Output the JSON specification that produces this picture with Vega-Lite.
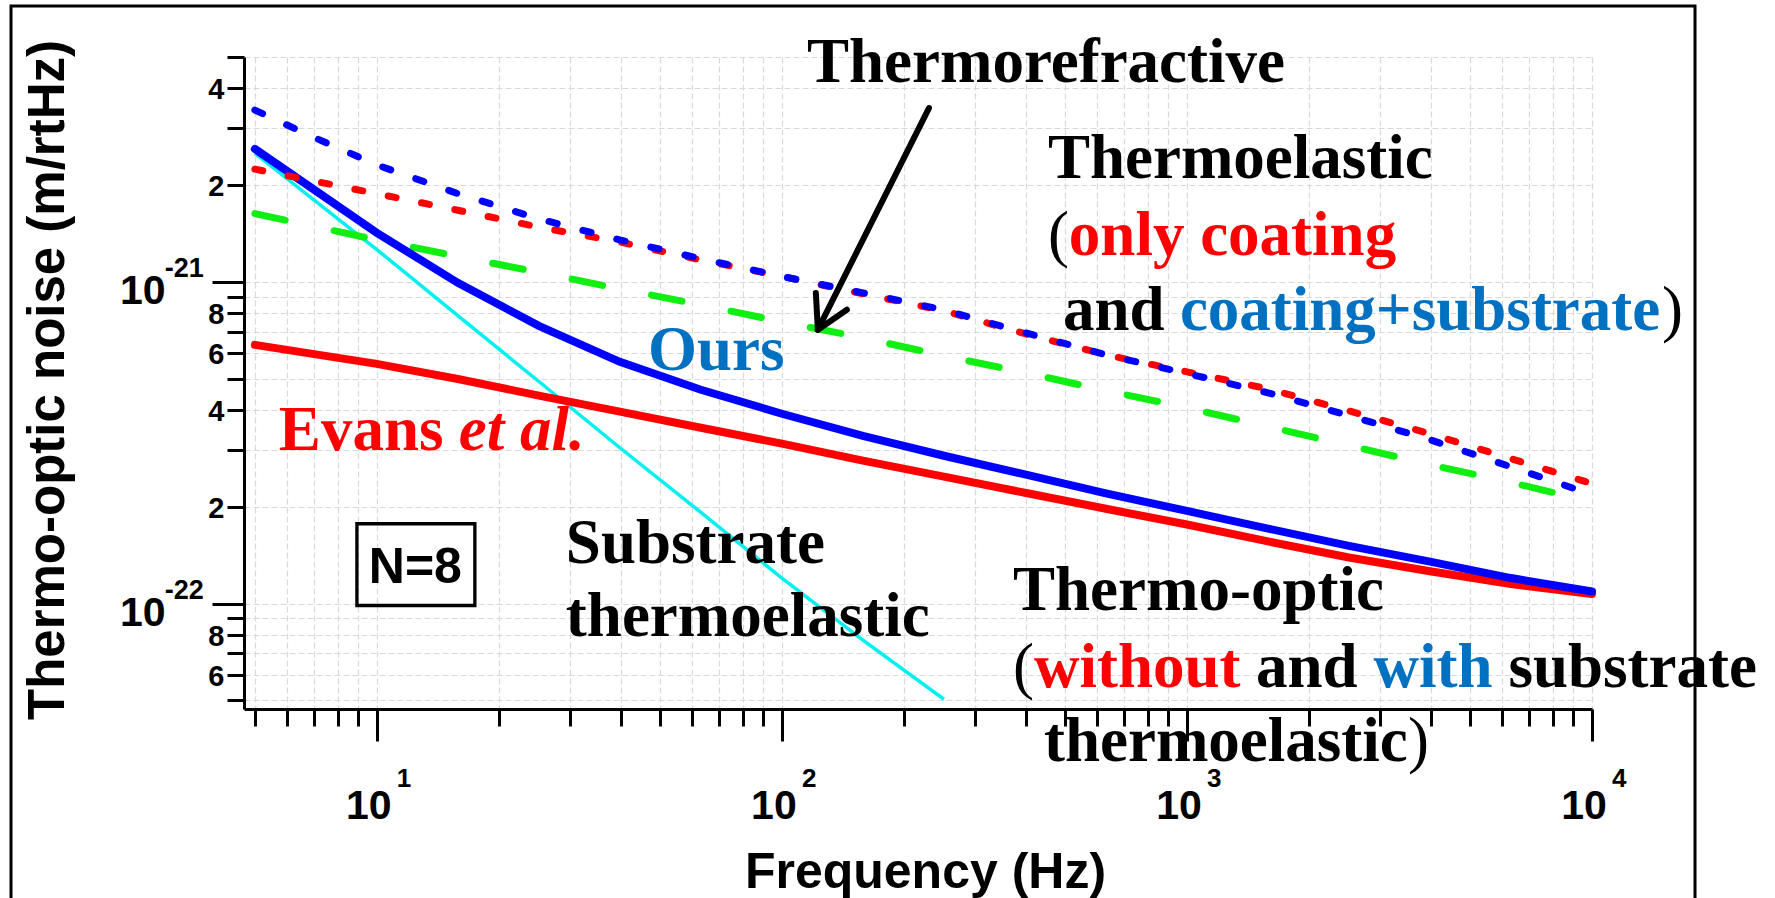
{
 "$schema": "https://vega.github.io/schema/vega-lite/v6.json",
 "width": 1348,
 "height": 652,
 "autosize": {"type": "none"},
 "padding": {"left": 244, "top": 57, "right": 183, "bottom": 189},
 "background": "white",
 "config": {"view": {"stroke": null}},
 "datasets": {
  "curves": [
   {"s":"evans","f":5,"v":6.37e-22},{"s":"evans","f":10,"v":5.56e-22},{"s":"evans","f":15.85,"v":4.99e-22},{"s":"evans","f":25.12,"v":4.43e-22},{"s":"evans","f":39.81,"v":3.95e-22},{"s":"evans","f":63.1,"v":3.52e-22},{"s":"evans","f":100,"v":3.14e-22},{"s":"evans","f":158.5,"v":2.78e-22},{"s":"evans","f":251.2,"v":2.48e-22},{"s":"evans","f":398.1,"v":2.21e-22},{"s":"evans","f":631,"v":1.97e-22},{"s":"evans","f":1000,"v":1.76e-22},{"s":"evans","f":1585,"v":1.56e-22},{"s":"evans","f":2512,"v":1.39e-22},{"s":"evans","f":3981,"v":1.26e-22},{"s":"evans","f":6310,"v":1.15e-22},{"s":"evans","f":10000,"v":1.07e-22},
   {"s":"ours","f":5,"v":2.59e-21},{"s":"ours","f":10,"v":1.42e-21},{"s":"ours","f":15.85,"v":9.93e-22},{"s":"ours","f":25.12,"v":7.30e-22},{"s":"ours","f":39.81,"v":5.64e-22},{"s":"ours","f":63.1,"v":4.62e-22},{"s":"ours","f":100,"v":3.89e-22},{"s":"ours","f":158.5,"v":3.32e-22},{"s":"ours","f":251.2,"v":2.88e-22},{"s":"ours","f":398.1,"v":2.52e-22},{"s":"ours","f":631,"v":2.20e-22},{"s":"ours","f":1000,"v":1.94e-22},{"s":"ours","f":1585,"v":1.71e-22},{"s":"ours","f":2512,"v":1.51e-22},{"s":"ours","f":3981,"v":1.35e-22},{"s":"ours","f":6310,"v":1.20e-22},{"s":"ours","f":10000,"v":1.09e-22},
   {"s":"te_coat","f":5,"v":2.24e-21},{"s":"te_coat","f":10,"v":1.88e-21},{"s":"te_coat","f":15.85,"v":1.67e-21},{"s":"te_coat","f":25.12,"v":1.48e-21},{"s":"te_coat","f":39.81,"v":1.33e-21},{"s":"te_coat","f":63.1,"v":1.17e-21},{"s":"te_coat","f":100,"v":1.04e-21},{"s":"te_coat","f":158.5,"v":9.18e-22},{"s":"te_coat","f":251.2,"v":8.13e-22},{"s":"te_coat","f":398.1,"v":6.90e-22},{"s":"te_coat","f":631,"v":5.93e-22},{"s":"te_coat","f":1000,"v":5.25e-22},{"s":"te_coat","f":1585,"v":4.65e-22},{"s":"te_coat","f":2512,"v":3.97e-22},{"s":"te_coat","f":3981,"v":3.37e-22},{"s":"te_coat","f":6310,"v":2.82e-22},{"s":"te_coat","f":10000,"v":2.36e-22},
   {"s":"te_coat_sub","f":5,"v":3.42e-21},{"s":"te_coat_sub","f":7,"v":2.81e-21},{"s":"te_coat_sub","f":10,"v":2.31e-21},{"s":"te_coat_sub","f":15.85,"v":1.88e-21},{"s":"te_coat_sub","f":25.12,"v":1.57e-21},{"s":"te_coat_sub","f":39.81,"v":1.35e-21},{"s":"te_coat_sub","f":63.1,"v":1.18e-21},{"s":"te_coat_sub","f":100,"v":1.04e-21},{"s":"te_coat_sub","f":158.5,"v":9.24e-22},{"s":"te_coat_sub","f":251.2,"v":8.18e-22},{"s":"te_coat_sub","f":398.1,"v":6.95e-22},{"s":"te_coat_sub","f":631,"v":5.93e-22},{"s":"te_coat_sub","f":1000,"v":5.19e-22},{"s":"te_coat_sub","f":1585,"v":4.52e-22},{"s":"te_coat_sub","f":2512,"v":3.84e-22},{"s":"te_coat_sub","f":3981,"v":3.23e-22},{"s":"te_coat_sub","f":6310,"v":2.66e-22},{"s":"te_coat_sub","f":10000,"v":2.18e-22},
   {"s":"tr","f":5,"v":1.63e-21},{"s":"tr","f":10,"v":1.35e-21},{"s":"tr","f":15.85,"v":1.20e-21},{"s":"tr","f":25.12,"v":1.07e-21},{"s":"tr","f":39.81,"v":9.51e-22},{"s":"tr","f":63.1,"v":8.48e-22},{"s":"tr","f":100,"v":7.51e-22},{"s":"tr","f":158.5,"v":6.70e-22},{"s":"tr","f":251.2,"v":5.89e-22},{"s":"tr","f":398.1,"v":5.22e-22},{"s":"tr","f":631,"v":4.59e-22},{"s":"tr","f":1000,"v":4.06e-22},{"s":"tr","f":1585,"v":3.55e-22},{"s":"tr","f":2512,"v":3.10e-22},{"s":"tr","f":3981,"v":2.70e-22},{"s":"tr","f":6310,"v":2.38e-22},{"s":"tr","f":10000,"v":2.07e-22},
   {"s":"sub_te","f":5,"v":2.51e-21},{"s":"sub_te","f":10,"v":1.26e-21},{"s":"sub_te","f":15.85,"v":7.85e-22},{"s":"sub_te","f":25.12,"v":4.9e-22},{"s":"sub_te","f":39.81,"v":3.05e-22},{"s":"sub_te","f":63.1,"v":1.92e-22},{"s":"sub_te","f":100,"v":1.2e-22},{"s":"sub_te","f":158.5,"v":7.7e-23},{"s":"sub_te","f":251.2,"v":5.04e-23}
  ],
  "notes": [
   {"txt":"Thermorefractive","f":115.3,"v":4.18e-21,"ref":"none","kind":"word"},
   {"txt":"Thermoelastic","f":453.7,"v":2.10e-21,"ref":"none","kind":"word"},
   {"txt":"(","f":453.7,"v":1.213e-21,"ref":"none","kind":"paren"},
   {"txt":"only coating","f":511.1,"v":1.213e-21,"ref":"without","kind":"word"},
   {"txt":"and","f":494.0,"v":7.10e-22,"ref":"none","kind":"word"},
   {"txt":"coating+substrate","f":960.7,"v":7.10e-22,"ref":"with","kind":"word"},
   {"txt":")","f":14890,"v":7.10e-22,"ref":"none","kind":"paren"},
   {"txt":"Ours","f":46.7,"v":5.33e-22,"ref":"with","kind":"word"},
   {"txt":"Evans","f":5.73,"v":3.01e-22,"ref":"without","kind":"word"},
   {"txt":"et al.","f":15.94,"v":3.01e-22,"ref":"without","kind":"etal"},
   {"txt":"Substrate","f":29.29,"v":1.34e-22,"ref":"none","kind":"word"},
   {"txt":"thermoelastic","f":29.29,"v":7.90e-23,"ref":"none","kind":"word"},
   {"txt":"Thermo-optic","f":371.9,"v":9.58e-23,"ref":"none","kind":"word"},
   {"txt":"(","f":371.9,"v":5.52e-23,"ref":"none","kind":"paren"},
   {"txt":"without","f":419.0,"v":5.52e-23,"ref":"without","kind":"word"},
   {"txt":"and","f":1481,"v":5.52e-23,"ref":"none","kind":"word"},
   {"txt":"with","f":2888,"v":5.52e-23,"ref":"with","kind":"word"},
   {"txt":"substrate","f":6217,"v":5.52e-23,"ref":"none","kind":"word"},
   {"txt":"thermoelastic","f":443.6,"v":3.23e-23,"ref":"none","kind":"word"},
   {"txt":")","f":3513,"v":3.23e-23,"ref":"none","kind":"paren"},
   {"txt":"N=8","f":12.45,"v":1.162e-22,"ref":"none","kind":"box"}
  ],
  "arrow": [
   {"f":230.7,"v":3.47e-21,"f2":122.7,"v2":7.10e-22},
   {"f":121.3,"v":9.24e-22,"f2":122.7,"v2":7.10e-22},
   {"f":144.7,"v":8.19e-22,"f2":122.7,"v2":7.10e-22}
  ],
  "boxes": [
   {"name":"frame","f":1.25,"f2":17960,"v":7.2e-21,"v2":1e-23},
   {"name":"N=8 box","f":8.93,"f2":17.46,"v":1.77e-22,"v2":9.86e-23}
  ],
  "exps": [
   {"txt":"1","f":10,"v":2.68e-23,"axis":"x"},
   {"txt":"2","f":100,"v":2.68e-23,"axis":"x"},
   {"txt":"3","f":1000,"v":2.68e-23,"axis":"x"},
   {"txt":"4","f":10000,"v":2.68e-23,"axis":"x"},
   {"txt":"-21","f":2.995,"v":1e-21,"axis":"y"},
   {"txt":"-22","f":2.995,"v":1e-22,"axis":"y"}
  ]
 },
 "encoding": {
  "x": {
   "field": "f", "type": "quantitative",
   "scale": {"type": "log", "domain": [4.7, 10000], "nice": false},
   "axis": {
    "values": [5,6,7,8,9,10,20,30,40,50,60,70,80,90,100,200,300,400,500,600,700,800,900,1000,2000,3000,4000,5000,6000,7000,8000,9000,10000],
    "labelExpr": "abs(log(datum.value)/LN10 - round(log(datum.value)/LN10)) < 1e-6 ? '10' : ''",
    "tickSize": {"condition": {"test": "abs(log(datum.value)/LN10 - round(log(datum.value)/LN10)) < 1e-6", "value": 32}, "value": 17},
    "tickWidth": 3, "tickColor": "#000000",
    "domainWidth": 3, "domainColor": "#000000",
    "grid": true, "gridColor": "#d9d9d9", "gridDash": [6, 3], "gridWidth": 1.2,
    "labelFont": "Liberation Sans", "labelFontWeight": "bold", "labelFontSize": 41, "labelColor": "#000000",
    "labelBaseline": "alphabetic", "labelAlign": "center", "labelPadding": 77, "labelOffset": -8.5,
    "labelFlush": false, "labelOverlap": false, "labelBound": false,
    "title": "Frequency (Hz)", "titleFont": "Liberation Sans", "titleFontWeight": "bold", "titleFontSize": 50, "titleColor": "#000000",
    "titleX": 681, "titleY": 178, "titleBaseline": "alphabetic", "titleAlign": "center"
   }
  },
  "y": {
   "field": "v", "type": "quantitative",
   "scale": {"type": "log", "domain": [4.7e-23, 5e-21], "nice": false},
   "axis": {
    "values": [5e-23,6e-23,7e-23,8e-23,9e-23,1e-22,2e-22,3e-22,4e-22,5e-22,6e-22,7e-22,8e-22,9e-22,1e-21,2e-21,3e-21,4e-21,5e-21],
    "labelExpr": "abs(log(datum.value)/LN10 - round(log(datum.value)/LN10)) < 1e-6 ? '10' : (indexof([2,4,6,8], round(datum.value/pow(10, floor(log(datum.value)/LN10 + 1e-6)))) >= 0 ? '' + round(datum.value/pow(10, floor(log(datum.value)/LN10 + 1e-6))) : '')",
    "tickSize": {"condition": {"test": "abs(log(datum.value)/LN10 - round(log(datum.value)/LN10)) < 1e-6", "value": 32}, "value": 17},
    "labelPadding": {"condition": {"test": "abs(log(datum.value)/LN10 - round(log(datum.value)/LN10)) < 1e-6", "value": 47}, "value": 3},
    "labelFontSize": {"condition": {"test": "abs(log(datum.value)/LN10 - round(log(datum.value)/LN10)) < 1e-6", "value": 41}, "value": 29},
    "labelOffset": {"condition": {"test": "abs(log(datum.value)/LN10 - round(log(datum.value)/LN10)) < 1e-6", "value": 21.5}, "value": 10.5},
    "tickWidth": 3, "tickColor": "#000000",
    "domainWidth": 3, "domainColor": "#000000",
    "grid": true, "gridColor": "#d9d9d9", "gridDash": [6, 3], "gridWidth": 1.2,
    "labelFont": "Liberation Sans", "labelFontWeight": "bold", "labelColor": "#000000",
    "labelBaseline": "alphabetic", "labelAlign": "right",
    "labelFlush": false, "labelOverlap": false, "labelBound": false,
    "title": "Thermo-optic noise (m/rtHz)", "titleFont": "Liberation Sans", "titleFontWeight": "bold", "titleFontSize": 51, "titleColor": "#000000",
    "titleX": -181, "titleY": 322.5, "titleAngle": 270, "titleBaseline": "alphabetic", "titleAlign": "center"
   }
  }
 },
 "layer": [
  {
   "data": {"name": "boxes"},
   "transform": [{"filter": "datum.name === 'frame'"}],
   "mark": {"type": "rect", "filled": false, "color": "#000000", "strokeWidth": 3},
   "encoding": {
    "x2": {"field": "f2"},
    "y2": {"field": "v2"}
   }
  },
  {
   "data": {"name": "curves"},
   "transform": [{"filter": "datum.s === 'sub_te'"}],
   "mark": {"type": "line", "color": "#00F0F0", "strokeWidth": 3.5},
   "encoding": {}
  },
  {
   "data": {"name": "curves"},
   "transform": [{"filter": "datum.s === 'tr'"}],
   "mark": {"type": "line", "color": "#11EE11", "strokeWidth": 7, "strokeCap": "round", "strokeDash": [31, 50]},
   "encoding": {}
  },
  {
   "data": {"name": "curves"},
   "transform": [{"filter": "datum.s === 'evans'"}],
   "mark": {"type": "line", "color": "#FF0000", "strokeWidth": 8, "strokeCap": "round"},
   "encoding": {}
  },
  {
   "data": {"name": "curves"},
   "transform": [{"filter": "datum.s === 'ours'"}],
   "mark": {"type": "line", "color": "#0000FF", "strokeWidth": 8, "strokeCap": "round"},
   "encoding": {}
  },
  {
   "data": {"name": "curves"},
   "transform": [{"filter": "datum.s === 'te_coat'"}],
   "mark": {"type": "line", "color": "#FF0000", "strokeWidth": 7, "strokeCap": "round", "strokeDash": [8, 26]},
   "encoding": {}
  },
  {
   "data": {"name": "curves"},
   "transform": [{"filter": "datum.s === 'te_coat_sub'"}],
   "mark": {"type": "line", "color": "#0000FF", "strokeWidth": 7, "strokeCap": "round", "strokeDash": [8.5, 26.5]},
   "encoding": {}
  },
  {
   "data": {"name": "arrow"},
   "mark": {"type": "rule", "color": "#000000", "strokeWidth": 6, "strokeCap": "round"},
   "encoding": {
    "x2": {"field": "f2"},
    "y2": {"field": "v2"}
   }
  },
  {
   "data": {"name": "boxes"},
   "transform": [{"filter": "datum.name === 'N=8 box'"}],
   "mark": {"type": "rect", "filled": false, "color": "#000000", "strokeWidth": 3.3},
   "encoding": {
    "x2": {"field": "f2"},
    "y2": {"field": "v2"}
   }
  },
  {
   "data": {"name": "notes"},
   "transform": [{"filter": "datum.kind === 'word' && datum.ref === 'none'"}],
   "mark": {"type": "text", "font": "Liberation Serif", "fontWeight": "bold", "fontSize": 63, "color": "#000000", "align": "left", "baseline": "alphabetic"},
   "encoding": {"text": {"field": "txt"}}
  },
  {
   "data": {"name": "notes"},
   "transform": [{"filter": "datum.kind === 'word' && datum.ref === 'without'"}],
   "mark": {"type": "text", "font": "Liberation Serif", "fontWeight": "bold", "fontSize": 63, "color": "#FF0000", "align": "left", "baseline": "alphabetic"},
   "encoding": {"text": {"field": "txt"}}
  },
  {
   "data": {"name": "notes"},
   "transform": [{"filter": "datum.kind === 'word' && datum.ref === 'with'"}],
   "mark": {"type": "text", "font": "Liberation Serif", "fontWeight": "bold", "fontSize": 63, "color": "#0070C0", "align": "left", "baseline": "alphabetic"},
   "encoding": {"text": {"field": "txt"}}
  },
  {
   "data": {"name": "notes"},
   "transform": [{"filter": "datum.kind === 'paren'"}],
   "mark": {"type": "text", "font": "Liberation Serif", "fontWeight": "normal", "fontSize": 63, "color": "#000000", "align": "left", "baseline": "alphabetic"},
   "encoding": {"text": {"field": "txt"}}
  },
  {
   "data": {"name": "notes"},
   "transform": [{"filter": "datum.kind === 'etal'"}],
   "mark": {"type": "text", "font": "Liberation Serif", "fontWeight": "bold", "fontStyle": "italic", "fontSize": 63, "color": "#FF0000", "align": "left", "baseline": "alphabetic"},
   "encoding": {"text": {"field": "txt"}}
  },
  {
   "data": {"name": "notes"},
   "transform": [{"filter": "datum.kind === 'box'"}],
   "mark": {"type": "text", "font": "Liberation Sans", "fontWeight": "bold", "fontSize": 50, "color": "#000000", "align": "center", "baseline": "alphabetic"},
   "encoding": {"text": {"field": "txt"}}
  },
  {
   "data": {"name": "exps"},
   "transform": [{"filter": "datum.axis === 'x'"}],
   "mark": {"type": "text", "font": "Liberation Sans", "fontWeight": "bold", "fontSize": 26, "color": "#000000", "align": "left", "baseline": "alphabetic", "dx": 20},
   "encoding": {"text": {"field": "txt"}}
  },
  {
   "data": {"name": "exps"},
   "transform": [{"filter": "datum.axis === 'y'"}],
   "mark": {"type": "text", "font": "Liberation Sans", "fontWeight": "bold", "fontSize": 27, "color": "#000000", "align": "left", "baseline": "alphabetic", "dy": -5},
   "encoding": {"text": {"field": "txt"}}
  }
 ]
}
